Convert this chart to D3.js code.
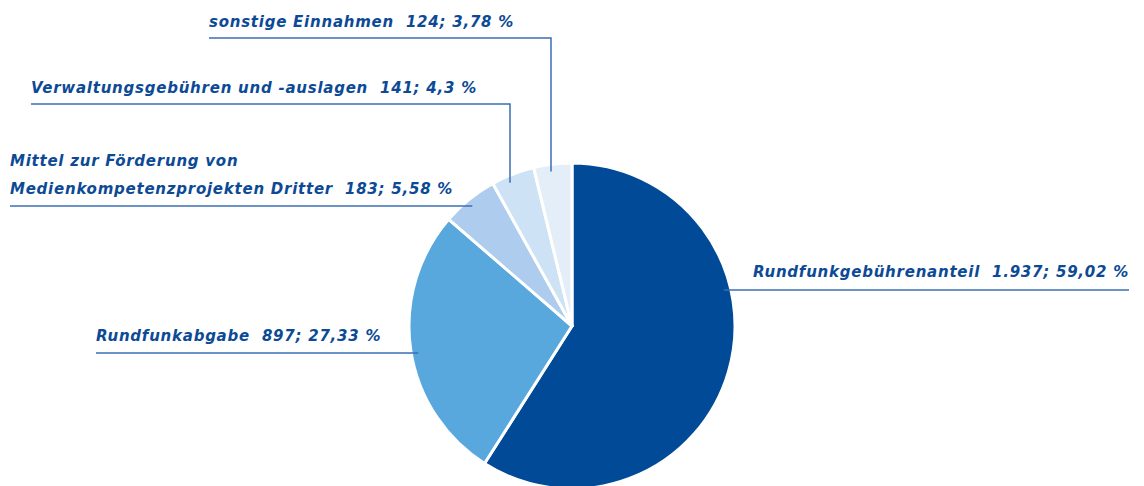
<!DOCTYPE html>
<html>
<head>
<meta charset="utf-8">
<script src="https://cdn.jsdelivr.net/npm/d3@7"></script>
<style>
  body { margin: 0; background: #fff; }
  text { font-family: "DejaVu Sans", sans-serif; font-weight: bold; font-style: italic; white-space: pre; }
</style>
</head>
<body>
<svg id="chart" width="1144" height="486"></svg>
<script>
(function(){

  // DATA ////////////////////////////////////////////////////////////////////

  var categories = ["Rundfunkgebührenanteil", "Rundfunkabgabe", "Mittel zur Förderung von Medienkompetenzprojekten Dritter", "Verwaltungsgebühren und -auslagen", "sonstige Einnahmen"];
  var values = [1937, 897, 183, 141, 124];
  var valueLabels = ["1.937", "897", "183", "141", "124"];
  var percentLabels = ["59,02", "27,33", "5,58", "4,3", "3,78"];
  var colors = ["#004a98", "#58a8dd", "#aecdee", "#cee2f6", "#e3eef9"];

  // label text lines (category names split where the chart wraps them)
  var labelLines = [
    ["Rundfunkgebührenanteil"],
    ["Rundfunkabgabe"],
    ["Mittel zur Förderung von", "Medienkompetenzprojekten Dritter"],
    ["Verwaltungsgebühren und -auslagen"],
    ["sonstige Einnahmen"]
  ];

  // LAYOUT //////////////////////////////////////////////////////////////////

  var width = 1144, height = 486;
  var cx = 572, cy = 326, radius = 163;
  var anchorR = 156; // where leaders end inside the slices
  var fontSize = 15;
  var targetWidth = 376; // width of the longest one-line label in the picture

  // text x, last baseline, underline y, underline end x (or vertical x for drop leaders)
  var labelLayout = [
    { x: 753, y: 277, lineY: 290, x2: 1129, side: "right" },
    { x: 96,  y: 341, lineY: 353, side: "left" },
    { x: 10,  y: 194, lineY: 206, side: "left", lineGap: 28 },
    { x: 31,  y: 93,  lineY: 104, side: "drop", dropX: 510 },
    { x: 209, y: 27,  lineY: 38,  side: "drop", dropX: 551 }
  ];

  var textColor = "#0c4a96";
  var leaderColor = "#3b6fb4";

  // PIE /////////////////////////////////////////////////////////////////////

  var svg = d3.select("#chart");

  var pie = d3.pie().sort(null).value(function(d){ return d; });
  var arc = d3.arc().innerRadius(0).outerRadius(radius);
  var arcs = pie(values);

  var g = svg.append("g").attr("transform", "translate(" + cx + "," + cy + ")");

  g.selectAll("path")
    .data(arcs)
    .enter()
    .append("path")
    .attr("d", arc)
    .attr("fill", function(d, i){ return colors[i]; })
    .attr("stroke", "#fff")
    .attr("stroke-width", 3)
    .attr("stroke-linejoin", "round");

  // LABELS //////////////////////////////////////////////////////////////////

  var labels = svg.append("g");
  var texts = [];

  labelLayout.forEach(function(L, i){

    var lines = labelLines[i];
    var gap = L.lineGap || 0;

    lines.forEach(function(line, j){
      var isLast = j === lines.length - 1;
      var txt = isLast ? line + "  " + valueLabels[i] + "; " + percentLabels[i] + " %" : line;
      var t = labels.append("text")
        .attr("x", L.x)
        .attr("y", L.y - (lines.length - 1 - j) * gap)
        .attr("font-size", fontSize)
        .attr("fill", textColor)
        .text(txt);
      texts.push(t);
    });

    var pts;
    var dy = L.lineY - cy;
    if (L.side === "right") {
      var xs = cx + Math.sqrt(anchorR * anchorR - dy * dy);
      pts = [[xs, L.lineY], [L.x2, L.lineY]];
    } else if (L.side === "left") {
      var xe = cx - Math.sqrt(anchorR * anchorR - dy * dy);
      pts = [[L.x, L.lineY], [xe, L.lineY]];
    } else {
      var dx = L.dropX - cx;
      var ye = cy - Math.sqrt(anchorR * anchorR - dx * dx);
      pts = [[L.x, L.lineY], [L.dropX, L.lineY], [L.dropX, ye]];
    }

    labels.append("path")
      .attr("d", d3.line()(pts))
      .attr("fill", "none")
      .attr("stroke", leaderColor)
      .attr("stroke-width", 1.5);
  });

  // the picture's font runs a bit wider: spread letters so the first label fits
  var ref = texts[0];
  var n = ref.text().length;
  var spacing = (targetWidth - ref.node().getComputedTextLength()) / n;
  texts.forEach(function(t){ t.attr("letter-spacing", spacing); });

})();
</script>
</body>
</html>
